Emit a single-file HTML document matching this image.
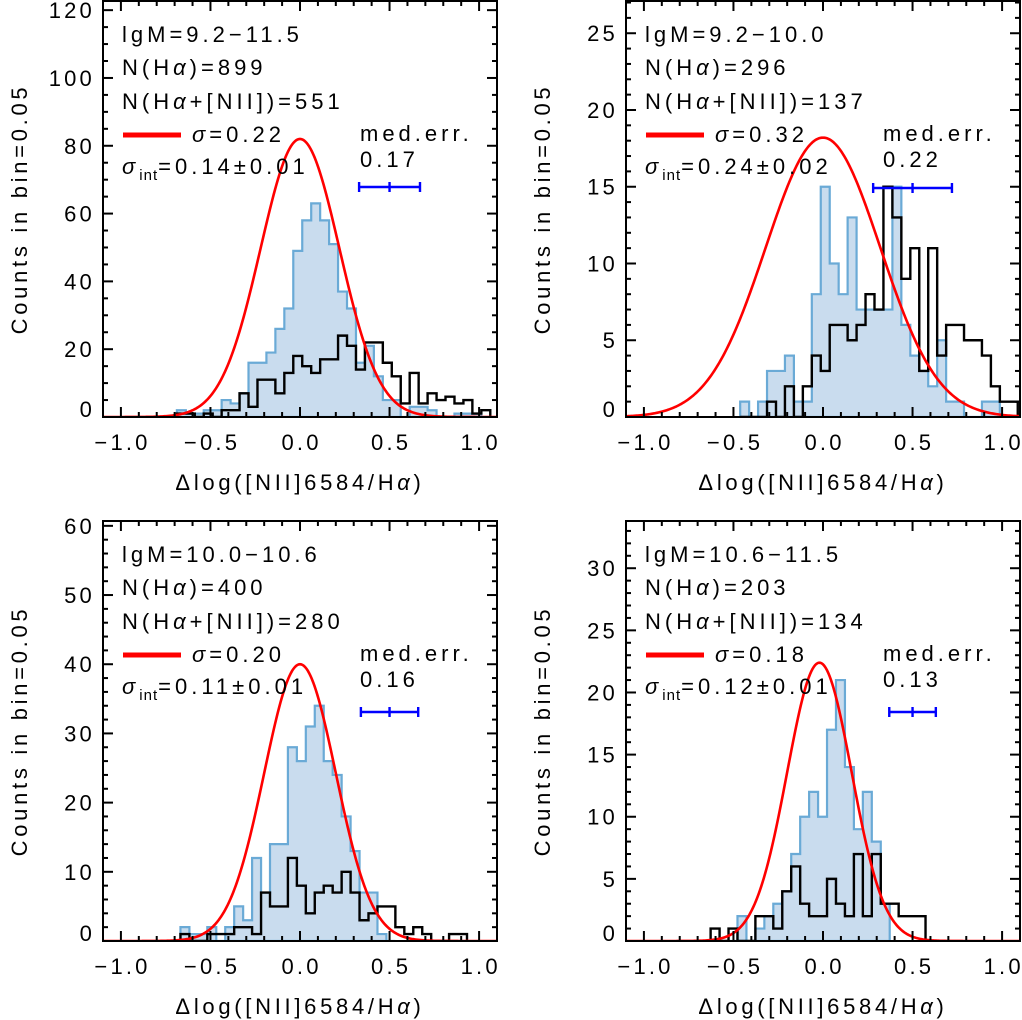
<!DOCTYPE html>
<html><head><meta charset="utf-8"><style>
html,body{margin:0;padding:0;background:#fff;}
svg{display:block;font-family:"Liberation Sans",sans-serif;}
text{font-size:22px;letter-spacing:3.2px;fill:#000;}
text.ann{letter-spacing:4px;}
text.ttl{letter-spacing:3.7px;}
</style></head><body>
<svg id="fig" width="1022" height="1020" viewBox="0 0 1022 1020" xmlns="http://www.w3.org/2000/svg"></svg>
<script>
// ---- data (counts per bin of 0.05) ----
const p1Start = -0.6875;
const p1Blue  = [2,1,1,2,2,5,4,7,16,16,19,26,32,49,58,63,58,51,37,32,16,21,12,5,5,0,3,3,2,0,0,1,1,1,0];
const p1Black = [1,1,0,1,0,2,2,7,3,11,11,7,13,18,15,13,17,17,24,21,14,22,22,16,12,4,13,4,7,5,6,4,5,1,2];
const p2Start = -0.4625;
const p2Blue  = [1,0,1,3,3,4,1,1,8,15,10,8,13,7,7,7,7,15,6,4,3,2,5,1,1,0,0,1,1,0];
const p2Black = [0,0,0,1,0,2,0,2,4,3,6,6,5,6,8,7,15,13,9,11,3,11,4,6,6,5,5,4,2,1,1];
const p3Start = -0.6675;
const p3Blue  = [2,1,1,2,0,2,5,3,12,7,14,14,28,26,31,34,26,24,18,13,7,7,1,0];
const p3Black = [1,0,0,1,1,1,2,2,1,7,5,5,12,8,4,7,8,7,10,7,3,4,5,5,2,1,2,1,0,0,1,1];
const p4Start = -0.6275;
const p4Blue  = [0,0,0,2,0,1,2,3,4,7,10,12,10,17,21,14,9,12,8,3];
const p4Black = [1,0,1,0,0,2,2,1,4,6,3,2,2,5,3,2,7,2,7,3,3,2,2,2];
const gaussAmp = [82,18.2,40,22.4];
const gaussSig = [0.22,0.32,0.20,0.18];
const gaussMu  = [0,0,0,-0.02];
const medErr   = [0.17,0.22,0.16,0.13];
const xTicks   = [-1.0,-0.5,0.0,0.5,1.0];
const xTickLabels = ["\u22121.0","\u22120.5","0.0","0.5","1.0"];
const yMajor = [20,5,10,5];
const yMinor = [5,1,2,1];
const labelM = ["lgM=9.2\u221211.5","lgM=9.2\u221210.0","lgM=10.0\u221210.6","lgM=10.6\u221211.5"];
const labelNHa = ["899","296","400","203"];
const labelNBoth = ["551","137","280","134"];
const labelSig = ["0.22","0.32","0.20","0.18"];
const labelSigInt = ["0.14\u00b10.01","0.24\u00b10.02","0.11\u00b10.01","0.12\u00b10.01"];

const NS="http://www.w3.org/2000/svg";
const svg=document.getElementById('fig');
function mk(tag,attrs,parent){const e=document.createElementNS(NS,tag);for(const k in attrs)e.setAttribute(k,attrs[k]);(parent||svg).appendChild(e);return e;}

const panels=[
 {L:103,R:497,T:1,B:417,ymax:122.7,start:p1Start,blue:p1Blue,black:p1Black,ebY:187},
 {L:626,R:1020,T:1,B:417,ymax:27.1,start:p2Start,blue:p2Blue,black:p2Black,ebY:188},
 {L:103,R:497,T:521,B:941,ymax:60.7,start:p3Start,blue:p3Blue,black:p3Black,ebY:712},
 {L:626,R:1020,T:521,B:941,ymax:33.8,start:p4Start,blue:p4Blue,black:p4Black,ebY:712}
];

panels.forEach((p,i)=>{
  const g=mk('g',{});
  
  
  const xs=v=>p.L+(v+1.1)/2.2*(p.R-p.L);
  const ys=v=>p.B-v/p.ymax*(p.B-p.T);
  const clipId='clip'+i;
  const cp=mk('clipPath',{id:clipId},g);
  mk('rect',{x:p.L,y:p.T,width:p.R-p.L,height:p.B-p.T},cp);
  const plot=mk('g',{'clip-path':'url(#'+clipId+')'},g);
  function stepPath(arr){
    let d='M'+xs(p.start).toFixed(2)+','+p.B;
    arr.forEach((v,k)=>{const x0=xs(p.start+k*0.05),x1=xs(p.start+(k+1)*0.05);
      d+=' L'+x0.toFixed(2)+','+ys(v).toFixed(2)+' L'+x1.toFixed(2)+','+ys(v).toFixed(2);});
    d+=' L'+xs(p.start+arr.length*0.05).toFixed(2)+','+p.B;
    return d;
  }
  const hb=mk('path',{d:stepPath(p.blue)+' Z',fill:'#c9dcee',stroke:'#6aaad6','stroke-width':2.2},plot);
  
  
  const hk=mk('path',{d:stepPath(p.black),fill:'none',stroke:'#000','stroke-width':2.4},plot);
  
  
  let gd='';
  for(let k=0;k<=300;k++){const x=-1.1+2.2*k/300;const v=gaussAmp[i]*Math.exp(-Math.pow(x-gaussMu[i],2)/(2*gaussSig[i]*gaussSig[i]));
    gd+=(k?' L':'M')+xs(x).toFixed(2)+','+ys(v).toFixed(2);}
  const gc=mk('path',{d:gd,fill:'none',stroke:'#f00','stroke-width':2.6},plot);
  
  
  const fr=mk('rect',{x:p.L,y:p.T,width:p.R-p.L,height:p.B-p.T,fill:'none',stroke:'#000','stroke-width':2},g);
  
  
  for(let t=-11;t<=11;t++){const v=t/10;const x=xs(v);const major=(t%5===0);const len=major?10:5;
    mk('line',{x1:x,y1:p.B,x2:x,y2:p.B-len,stroke:'#000','stroke-width':2},g);
    mk('line',{x1:x,y1:p.T,x2:x,y2:p.T+len,stroke:'#000','stroke-width':2},g);}
  xTicks.forEach((v,k)=>{const t=mk('text',{x:xs(v)+1.6,y:p.B+33,'text-anchor':'middle'},g);t.textContent=xTickLabels[k];
    
    });
  for(let v=0;v<=p.ymax;v+=yMinor[i]){const y=ys(v);const major=Math.abs(v/yMajor[i]-Math.round(v/yMajor[i]))<1e-6;const len=major?10:5;
    mk('line',{x1:p.L,y1:y,x2:p.L+len,y2:y,stroke:'#000','stroke-width':2},g);
    mk('line',{x1:p.R,y1:y,x2:p.R-len,y2:y,stroke:'#000','stroke-width':2},g);
    if(major){const t=mk('text',{x:p.L-8,y:Math.min(y+8,p.B),'text-anchor':'end'},g);t.textContent=String(Math.round(v));
      
      }}
  const xt=mk('text',{x:(p.L+p.R)/2,y:p.B+73,'text-anchor':'middle','class':'ttl'},g);
  xt.innerHTML='\u0394log([NII]6584/H<tspan font-style="italic">\u03b1</tspan>)';
  
  
  const ycx=p.L-76,ycy=(p.T+p.B)/2;
  const yt=mk('text',{x:ycx,y:ycy,'text-anchor':'middle','class':'ttl',transform:'rotate(-90 '+ycx+' '+ycy+')'},g);
  yt.textContent='Counts in bin=0.05';
  
  
  const ax=p.L+19,T=p.T;
  const a1=mk('text',{x:ax,y:T+41,'class':'ann'},g);a1.textContent=labelM[i];
  
  
  const a2=mk('text',{x:ax,y:T+74,'class':'ann'},g);a2.innerHTML='N(H<tspan font-style="italic">\u03b1</tspan>)='+labelNHa[i];
  
  
  const a3=mk('text',{x:ax,y:T+108,'class':'ann'},g);a3.innerHTML='N(H<tspan font-style="italic">\u03b1</tspan>+[NII])='+labelNBoth[i];
  
  
  const ll=mk('line',{x1:ax+1,y1:T+134,x2:ax+59,y2:T+134,stroke:'#f00','stroke-width':5},g);
  
  
  const a4=mk('text',{x:ax+70,y:T+141,'class':'ann'},g);a4.innerHTML='<tspan font-style="italic">\u03c3</tspan>='+labelSig[i];
  
  
  const a5=mk('text',{x:ax,y:T+173,'class':'ann'},g);a5.innerHTML='<tspan font-style="italic">\u03c3</tspan><tspan font-size="15" dy="6" letter-spacing="1">int</tspan><tspan dy="-6">='+labelSigInt[i]+'</tspan>';
  
  
  const m1=mk('text',{x:p.L+257,y:T+140,'class':'ann'},g);m1.textContent='med.err.';
  
  
  const m2=mk('text',{x:p.L+257,y:T+166,'class':'ann'},g);m2.textContent=medErr[i].toFixed(2);
  
  
  const eb=mk('g',{stroke:'#00f','stroke-width':2.4},g);
  
  
  const cx=xs(0.5),lo=xs(0.5-medErr[i]),hi=xs(0.5+medErr[i]);
  mk('line',{x1:lo,y1:p.ebY,x2:hi,y2:p.ebY},eb);
  [lo,cx,hi].forEach(x=>mk('line',{x1:x,y1:p.ebY-5,x2:x,y2:p.ebY+5},eb));
});
</script>
</body></html>
